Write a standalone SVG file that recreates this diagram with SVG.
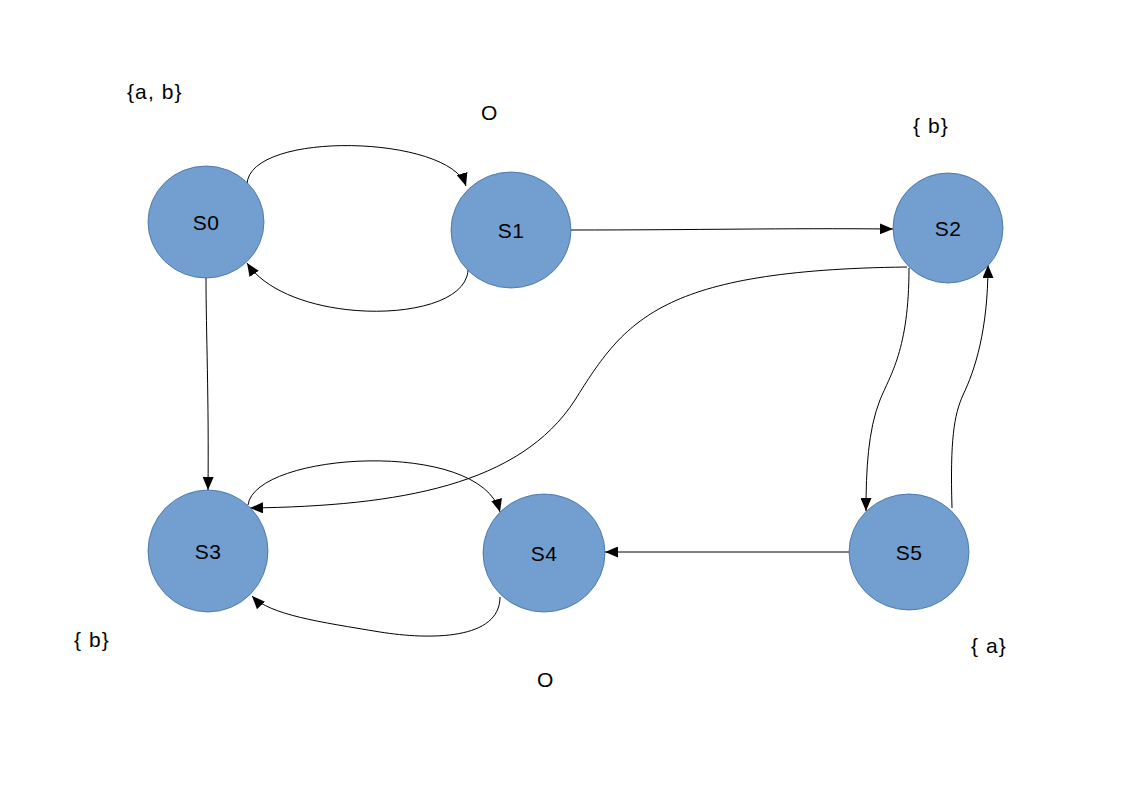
<svg xmlns="http://www.w3.org/2000/svg" width="1123" height="794" viewBox="0 0 1123 794">
<style>
.node{fill:#729fcf;stroke:#3e6ca3;stroke-width:0.8}
.lbl{font-family:"Liberation Sans",Arial,sans-serif;font-size:21px;letter-spacing:0.5px;fill:#000;text-anchor:middle;dominant-baseline:central}
.ann{font-family:"Liberation Sans",Arial,sans-serif;font-size:21px;letter-spacing:1.1px;fill:#000}
.edge{fill:none;stroke:#000;stroke-width:1;marker-end:url(#arr)}
</style>
<defs>
<marker id="arr" markerUnits="userSpaceOnUse" markerWidth="15" markerHeight="11" refX="13" refY="5.5" orient="auto">
<path d="M0,0 L13,5.5 L0,11 Z" fill="#000"/>
</marker>
</defs>
<rect width="1123" height="794" fill="#fff"/>
<g id="connectors">
<path class="edge" d="M247,184 C250,130 450,135 466,186"/>
<path class="edge" d="M468,268 C470,325 290,328 247,263"/>
<path class="edge" d="M571,230 C700,230 780,228 893,229"/>
<path class="edge" d="M206,278 C206,330 209,400 208,490"/>
<path class="edge" d="M907,267 C660,270 625,320 575,400 C520,485 400,506 250,508"/>
<path class="edge" d="M909,268 C909,350 890,375 880,400 C868,430 866,470 866,511"/>
<path class="edge" d="M952,508 C950,440 954,415 963,395 C975,370 988,330 988,265"/>
<path class="edge" d="M849,552 L605,552"/>
<path class="edge" d="M248,505 C255,452 480,438 500,512"/>
<path class="edge" d="M500,597 C500,640 430,640 380,632 C320,622 270,615 252,596"/>
</g>
<g id="S0"><ellipse class="node" cx="206" cy="222" rx="58" ry="56"/><text class="lbl" x="206" y="222">S0</text></g>
<g id="S1"><ellipse class="node" cx="511" cy="230" rx="60" ry="58"/><text class="lbl" x="511" y="230">S1</text></g>
<g id="S2"><ellipse class="node" cx="948" cy="228" rx="55" ry="55"/><text class="lbl" x="948" y="228">S2</text></g>
<g id="S3"><ellipse class="node" cx="208" cy="551" rx="60" ry="61"/><text class="lbl" x="208" y="551">S3</text></g>
<g id="S4"><ellipse class="node" cx="544" cy="553" rx="61" ry="59"/><text class="lbl" x="544" y="553">S4</text></g>
<g id="S5"><ellipse class="node" cx="909" cy="552" rx="60" ry="58"/><text class="lbl" x="909" y="552">S5</text></g>
<g id="annotations">
<text class="ann" x="127" y="99">{a, b}</text>
<text class="ann" x="481" y="120">O</text>
<text class="ann" x="913" y="133">{ b}</text>
<text class="ann" x="74" y="647">{ b}</text>
<text class="ann" x="537" y="687">O</text>
<text class="ann" x="971" y="653">{ a}</text>
</g>
</svg>
